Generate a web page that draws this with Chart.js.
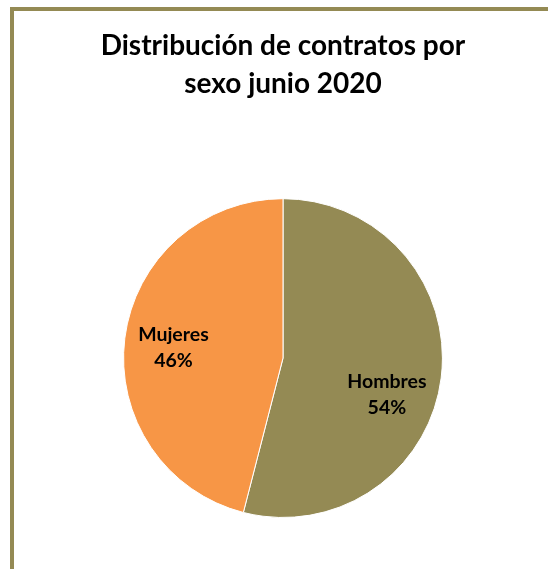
<!DOCTYPE html>
<html>
<head>
<meta charset="utf-8">
<script src="https://cdn.jsdelivr.net/npm/chart.js@4"></script>
<style>
  html, body { margin: 0; padding: 0; background: #fff; overflow: hidden; }
  #wrap { position: relative; width: 548px; height: 569px; }
  #frame { position: absolute; left: 10px; top: 7px; width: 560px; height: 600px; border: 4px solid #948A54; box-sizing: border-box; }
  canvas { position: absolute; left: 0; top: 0; }
</style>
</head>
<body>
<div id="wrap">
  <div id="frame"></div>
  <canvas id="c" width="548" height="569"></canvas>
</div>
<script>
const categories = ['Hombres', 'Mujeres'];
const values = [54, 46];
const colors = ['#948A54', '#F79646'];
const titleLines = ['Distribución de contratos por', 'sexo junio 2020'];
const labelAngleOffsetDeg = [12, -2];

const FONT = 'Lato, "Open Sans", sans-serif';

const labelPlugin = {
  id: 'sliceLabels',
  afterDatasetsDraw(chart) {
    const ctx = chart.ctx;
    const meta = chart.getDatasetMeta(0);
    const total = values.reduce((a, b) => a + b, 0);
    ctx.save();
    ctx.fillStyle = '#000';
    ctx.font = 'bold 19.5px ' + FONT;
    ctx.textAlign = 'center';
    ctx.textBaseline = 'middle';
    meta.data.forEach((arc, i) => {
      const p = arc.getProps(['x', 'y', 'startAngle', 'endAngle', 'outerRadius'], true);
      const mid = (p.startAngle + p.endAngle) / 2 + labelAngleOffsetDeg[i] * Math.PI / 180;
      const d = p.outerRadius * 0.69;
      const cx = p.x + Math.cos(mid) * d;
      const cy = p.y + Math.sin(mid) * d;
      const pct = Math.round(values[i] / total * 100) + '%';
      ctx.fillText(categories[i], cx, cy - 13);
      ctx.fillText(pct, cx, cy + 13);
    });
    ctx.restore();
  }
};

new Chart(document.getElementById('c'), {
  type: 'pie',
  data: {
    labels: categories,
    datasets: [{
      data: values,
      backgroundColor: colors,
      borderColor: '#ffffff',
      borderWidth: 1
    }]
  },
  options: {
    responsive: false,
    animation: false,
    layout: { padding: { left: 18, right: 0, top: 0, bottom: 51 } },
    plugins: {
      legend: { display: false },
      tooltip: { enabled: false },
      title: {
        display: true,
        text: titleLines,
        color: '#000',
        font: { family: FONT, size: 28, weight: 'bold', lineHeight: 1.36 },
        padding: { top: 27, bottom: 95 }
      }
    }
  },
  plugins: [labelPlugin]
});
</script>
</body>
</html>
